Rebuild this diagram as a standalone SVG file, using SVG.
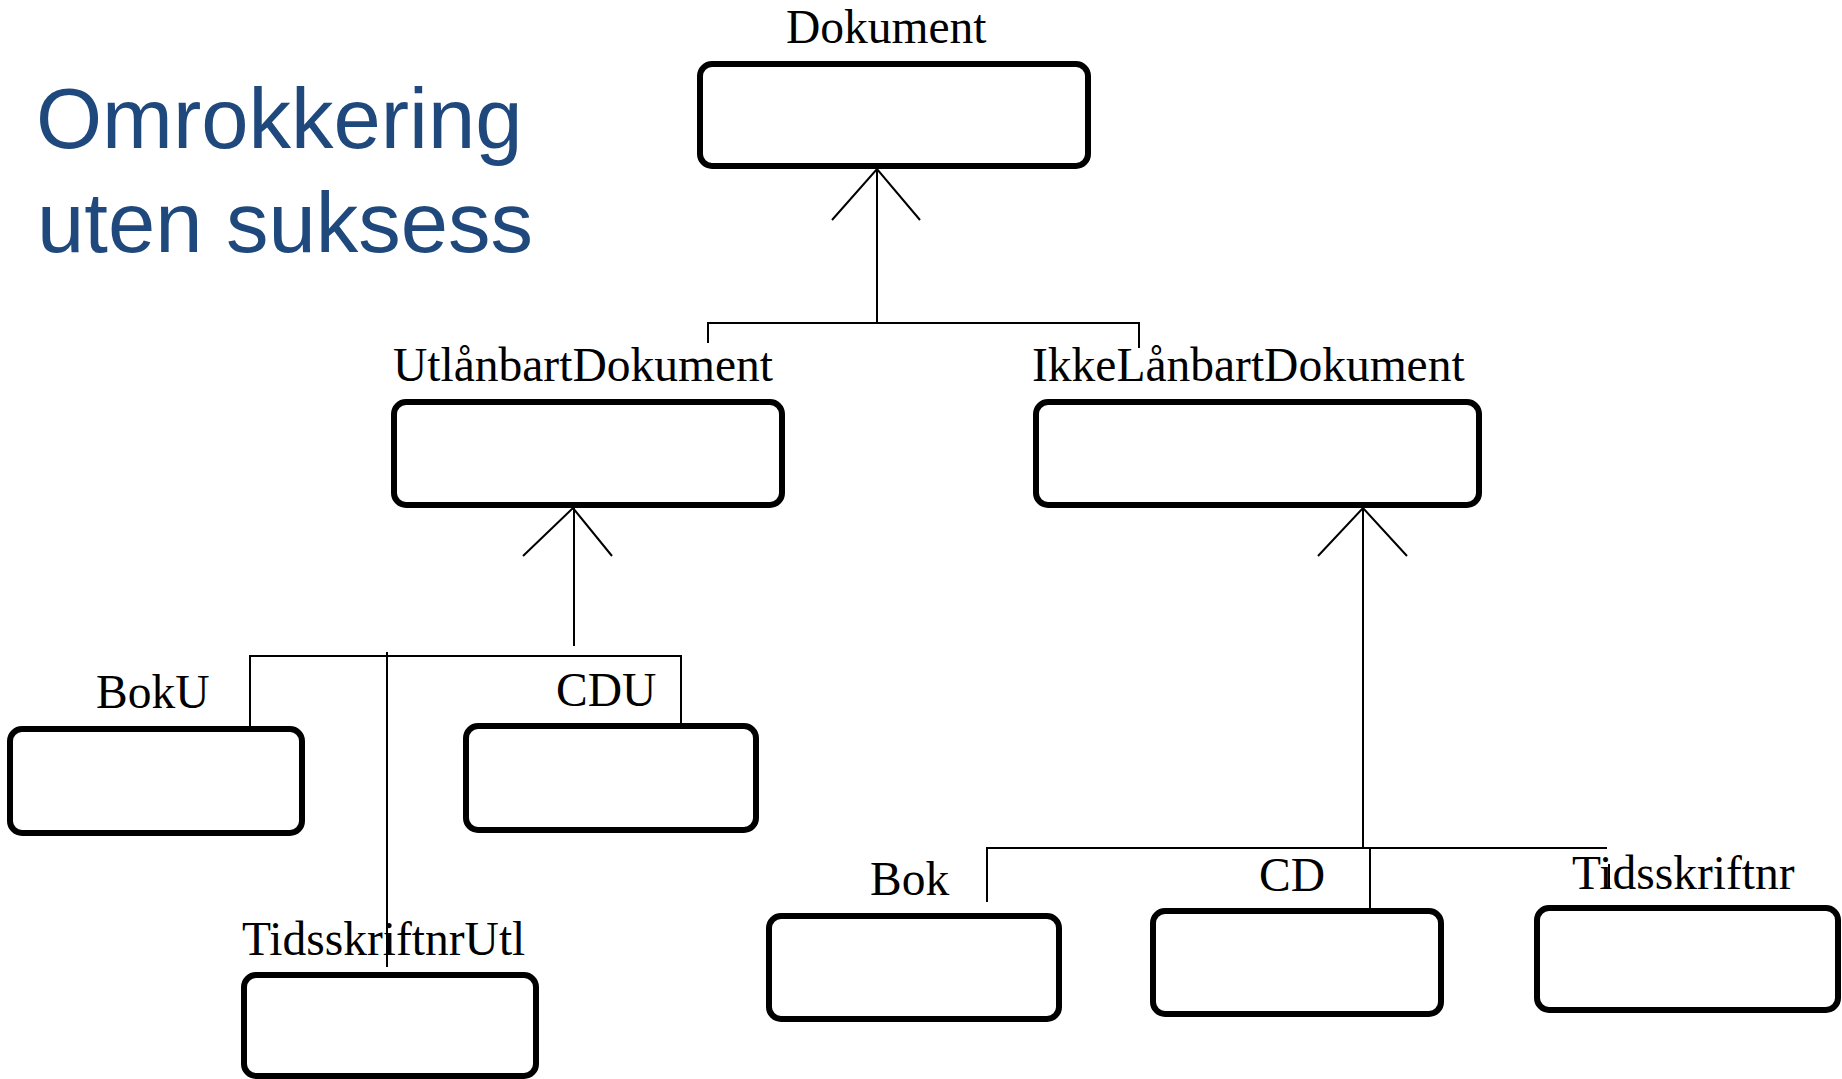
<svg xmlns="http://www.w3.org/2000/svg" width="1842" height="1079" viewBox="0 0 1842 1079">
  <style>
    .box { fill: #ffffff; stroke: #000000; stroke-width: 6; }
    .lbl { font-family: "Liberation Serif", "Times New Roman", serif; font-size: 47.5px; fill: #000000; }
    .title { font-family: "Liberation Sans", Arial, sans-serif; font-size: 85px; fill: #1F497D; }
    .wire { fill: none; stroke: #000000; stroke-width: 2; }
  </style>
  <rect width="1842" height="1079" fill="#ffffff"/>

  <!-- heading -->
  <g id="heading">
    <text class="title" x="36" y="148">Omrokkering</text>
    <text class="title" x="37" y="252">uten suksess</text>
  </g>

  <!-- class boxes -->
  <g id="node-dokument">
    <rect class="box" x="700" y="64" width="388" height="102" rx="12"/>
    <text class="lbl" x="786" y="43">Dokument</text>
  </g>
  <g id="node-utlanbart">
    <rect class="box" x="394" y="402" width="388" height="103" rx="12"/>
    <text class="lbl" x="393" y="381">UtlånbartDokument</text>
  </g>
  <g id="node-ikkelanbart">
    <rect class="box" x="1036" y="402" width="443" height="103" rx="12"/>
    <text class="lbl" x="1032" y="381">IkkeLånbartDokument</text>
  </g>
  <g id="node-boku">
    <rect class="box" x="10" y="729" width="292" height="104" rx="12"/>
    <text class="lbl" x="96" y="708">BokU</text>
  </g>
  <g id="node-cdu">
    <rect class="box" x="466" y="726" width="290" height="104" rx="12"/>
    <text class="lbl" x="556" y="706">CDU</text>
  </g>
  <g id="node-tidsskriftnrutl">
    <rect class="box" x="244" y="975" width="292" height="101" rx="12"/>
    <text class="lbl" x="242" y="955">TidsskriftnrUtl</text>
  </g>
  <g id="node-bok">
    <rect class="box" x="769" y="916" width="290" height="103" rx="12"/>
    <text class="lbl" x="870" y="895">Bok</text>
  </g>
  <g id="node-cd">
    <rect class="box" x="1153" y="911" width="288" height="103" rx="12"/>
    <text class="lbl" x="1259" y="891">CD</text>
  </g>
  <g id="node-tidsskriftnr">
    <rect class="box" x="1537" y="908" width="301" height="102" rx="12"/>
    <text class="lbl" x="1572" y="889">Tidsskriftnr</text>
  </g>

  <!-- generalisation connectors -->
  <g id="connectors" class="wire">
    <!-- Dokument <- Utlånbart / IkkeLånbart -->
    <polyline points="832,220 877,169 920,220"/>
    <line x1="877" y1="169" x2="877" y2="323"/>
    <polyline points="708,343 708,323 1139,323 1139,348"/>

    <!-- UtlånbartDokument <- BokU / CDU / TidsskriftnrUtl -->
    <polyline points="523,556 573,508 612,556"/>
    <line x1="574" y1="508" x2="574" y2="646"/>
    <polyline points="250,726 250,656 681,656 681,723"/>
    <line x1="387" y1="652" x2="387" y2="967"/>

    <!-- IkkeLånbartDokument <- Bok / CD / Tidsskriftnr -->
    <polyline points="1318,556 1363,508 1407,556"/>
    <line x1="1363" y1="508" x2="1363" y2="848"/>
    <polyline points="987,902 987,848 1607,848"/>
    <line x1="1370" y1="848" x2="1370" y2="908"/>
    <line x1="1609" y1="864" x2="1609" y2="889"/>
  </g>
</svg>
